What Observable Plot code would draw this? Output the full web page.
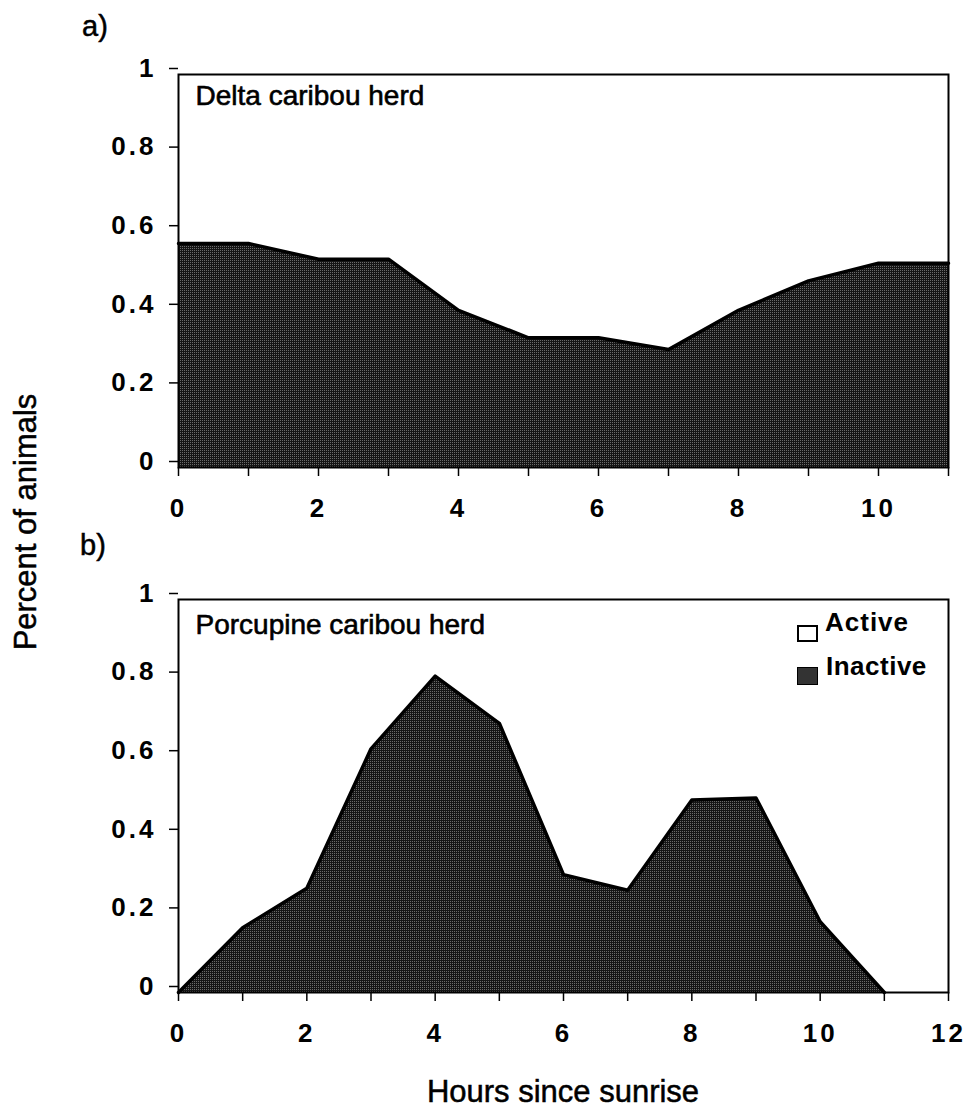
<!DOCTYPE html>
<html>
<head>
<meta charset="utf-8">
<script src="https://cdn.jsdelivr.net/npm/d3@7"></script>
<script src="https://cdn.jsdelivr.net/npm/@observablehq/plot@0.6"></script>
<style>
  body { margin: 0; background: #fff; }
  #wrap { position: relative; width: 972px; height: 1114px; font-family: "Liberation Sans", Arial, sans-serif; color: #000; overflow: hidden; }
  .lbl { position: absolute; white-space: nowrap; line-height: 1; -webkit-text-stroke: 0.5px #000; }
  .panel { position: absolute; left: 0; }
  g[aria-label$="tick label"] text { letter-spacing: 3px; }
</style>
</head>
<body>
<svg width="0" height="0" style="position:absolute">
  <defs>
    <pattern id="stip" width="2" height="2" patternUnits="userSpaceOnUse">
      <rect width="2" height="2" fill="#151515"></rect>
      <rect width="1" height="1" fill="#6a6a6a"></rect>
    </pattern>
  </defs>
</svg>
<div id="wrap"></div>
<script>
// ---- data ----
const hoursA = [0, 1, 2, 3, 4, 5, 6, 7, 8, 9, 10, 11];
const deltaInactive = [0.57, 0.57, 0.53, 0.53, 0.40, 0.33, 0.33, 0.30, 0.40, 0.475, 0.52, 0.52];
const hoursB = [0, 1, 2, 3, 4, 5, 6, 7, 8, 9, 10, 11];
const porcupineInactive = [0, 0.165, 0.265, 0.62, 0.805, 0.685, 0.30, 0.26, 0.49, 0.495, 0.18, 0];
const yTicks = [0, 0.2, 0.4, 0.6, 0.8, 1];
const xTicksA = [0, 1, 2, 3, 4, 5, 6, 7, 8, 9, 10, 11];
const xLabelsA = [0, 2, 4, 6, 8, 10];
const xTicksB = [0, 1, 2, 3, 4, 5, 6, 7, 8, 9, 10, 11, 12];
const xLabelsB = [0, 2, 4, 6, 8, 10, 12];
const panelTitles = ["Delta caribou herd", "Porcupine caribou herd"];
const legendLabels = ["Active", "Inactive"];

const FONT = "Liberation Sans, Arial, sans-serif";

function makePanel({hours, values, xDomain, xTicks, xLabels, title, titleDy, height, marginBottom}) {
  const data = hours.map((h, i) => ({h, v: values[i]}));
  return Plot.plot({
    width: 972,
    height,
    marginTop: 74,
    marginBottom,
    marginLeft: 178,
    marginRight: 24,
    x: {domain: xDomain, label: null},
    y: {domain: [0, 1], label: null},
    style: {fontFamily: FONT, color: "black", background: "transparent", overflow: "visible"},
    marks: [
      Plot.areaY(data, {x: "h", y: "v", fill: "url(#stip)"}),
      Plot.lineY(data, {x: "h", y: "v", stroke: "black", strokeWidth: 3.5, strokeLinejoin: "round"}),
      Plot.frame({stroke: "black", strokeWidth: 2}),
      Plot.axisX({ticks: xTicks, tickSize: 9, strokeWidth: 1.5, tickFormat: () => "", label: null}),
      Plot.axisX({ticks: xLabels, tickSize: 0, tickPadding: 31, fontSize: 26, fontWeight: "bold", label: null}),
      Plot.axisY({ticks: yTicks, tickSize: 9, strokeWidth: 1.5, tickPadding: 13, dy: -6, fontSize: 26, fontWeight: "bold", label: null, tickFormat: d3.format("")}),
      Plot.text([title], {frameAnchor: "top-left", textAnchor: "start", lineAnchor: "top", dx: 17, dy: titleDy, text: d => d, fontSize: 28, fill: "black", stroke: "black", strokeWidth: 0.6})
    ]
  });
}

const wrap = document.getElementById("wrap");

const a = makePanel({hours: hoursA, values: deltaInactive, xDomain: [0, 11], xTicks: xTicksA, xLabels: xLabelsA,
  title: panelTitles[0], titleDy: 11, height: 540, marginBottom: 73});
a.classList.add("panel");
a.style.top = "0px";
wrap.appendChild(a);

const b = makePanel({hours: hoursB, values: porcupineInactive, xDomain: [0, 12], xTicks: xTicksB, xLabels: xLabelsB,
  title: panelTitles[1], titleDy: 15, height: 589, marginBottom: 122});
b.classList.add("panel");
b.style.top = "525px";
wrap.appendChild(b);

function label(text, css) {
  const d = document.createElement("div");
  d.className = "lbl";
  d.textContent = text;
  Object.assign(d.style, css);
  wrap.appendChild(d);
  return d;
}

label("a)", {left: "82px", top: "12px", fontSize: "29px"});
label("b)", {left: "80px", top: "531px", fontSize: "29px"});
label("Percent of animals", {left: "25px", top: "522px", fontSize: "31px", transform: "translate(-50%,-50%) rotate(-90deg)"});
label("Hours since sunrise", {left: "563px", top: "1076px", fontSize: "31px", transform: "translateX(-50%)"});

// legend (inside panel b)
const sq1 = document.createElement("div");
Object.assign(sq1.style, {position: "absolute", left: "797px", top: "625px", width: "21px", height: "17px", border: "2px solid #000", boxSizing: "border-box", background: "#fff"});
wrap.appendChild(sq1);
const sq2 = document.createElement("div");
Object.assign(sq2.style, {position: "absolute", left: "797px", top: "667px", width: "21px", height: "18px", border: "1px solid #000", boxSizing: "border-box", background: "#333"});
wrap.appendChild(sq2);
label(legendLabels[0], {left: "825px", top: "609px", fontSize: "26px", fontWeight: "bold", letterSpacing: "1px", webkitTextStroke: "0px"});
label(legendLabels[1], {left: "826px", top: "653px", fontSize: "26px", fontWeight: "bold", letterSpacing: "0.5px", webkitTextStroke: "0px"});
</script>
</body>
</html>
